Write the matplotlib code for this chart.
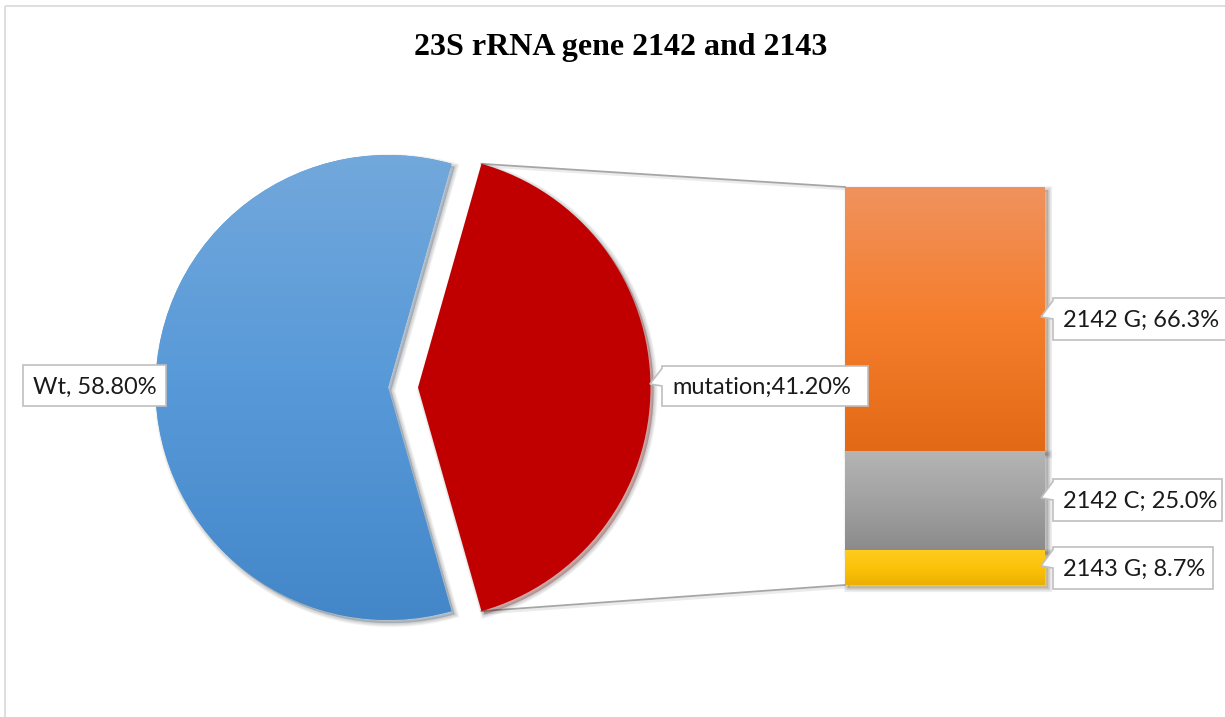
import numpy as np
import matplotlib.pyplot as plt
import matplotlib.patheffects as pe
from matplotlib.patches import Polygon, Rectangle
from matplotlib.colors import LinearSegmentedColormap

title = '23S rRNA gene 2142 and 2143'
pie_labels = ['Wt', 'mutation']
pie_values = [58.80, 41.20]
bar_labels = ['2142 G', '2142 C', '2143 G']
bar_values = [66.3, 25.0, 8.7]

W, H = 1225, 717
fig = plt.figure(figsize=(W / 100, H / 100), dpi=100)
ax = fig.add_axes([0, 0, 1, 1])

# soft drop shadow, down and right
shadow = ([pe.SimplePatchShadow(offset=(2.2, -2.2), shadow_rgbFace='k', alpha=0.10)]
          + [pe.Stroke(offset=(2.2, -2.2), linewidth=lw, foreground='k', alpha=0.035)
             for lw in (1, 2, 3, 4, 5, 6)]
          + [pe.Normal()])


def grad_fill(patch, colors, extent):
    x0, x1, y0, y1 = extent
    g = np.linspace(0, 1, 256)[:, None]
    cmap = LinearSegmentedColormap.from_list('g', colors)
    im = ax.imshow(g, cmap=cmap, extent=(x0, x1, y1, y0), origin='upper',
                   aspect='auto', interpolation='bilinear',
                   zorder=patch.get_zorder() + 0.1)
    im.set_clip_path(patch)


# chart frame
ax.add_patch(Rectangle((4.5, 5.5), W, H, fill=False, ec='#d9d9d9', lw=1.2))

# pie
cx, cy, r = 388, 387.5, 232.5
expl = 30
half = pie_values[1] / 100 * 180
wedges, _ = ax.pie(pie_values, explode=[0, expl], center=(cx, cy), radius=r,
                   startangle=half, counterclock=True,
                   colors=['#5b9bd5', '#c00000'], wedgeprops=dict(lw=0))
for w_ in wedges:
    w_.set_zorder(2)
    w_.set_path_effects(shadow)
grad_fill(wedges[0], ['#72a8dc', '#5799d8', '#4487c9'], (cx - r, cx + r, cy - r, cy + r))

# bar of pie
bx, bw, btop, bh = 945, 200, 187, 398
scale = bh / sum(bar_values)
heights = np.array(bar_values) * scale
bottoms = btop + np.concatenate([[0], np.cumsum(heights)[:-1]])
bar_cols = [['#f0925e', '#f57e2c', '#e26a17'],
            ['#b5b5b5', '#a2a2a2', '#8b8b8b'],
            ['#ffcb1f', '#fcc30a', '#ebb000']]
bars = ax.bar(bx, heights, bottom=bottoms, width=bw, color=[c[1] for c in bar_cols],
              lw=0, zorder=2)
for b, cols in zip(bars, bar_cols):
    b.set_path_effects(shadow)
    x0, y0 = b.get_x(), b.get_y()
    grad_fill(b, cols, (x0, x0 + b.get_width(), y0, y0 + b.get_height()))

# connector lines
th = np.radians(half)
px = cx + expl + r * np.cos(th)
for sgn, yb in [(-1, btop), (1, btop + bh)]:
    ax.plot([px, bx - bw / 2], [cy + sgn * r * np.sin(th), yb],
            color='#a6a6a6', lw=1.3, zorder=1,
            path_effects=[pe.Stroke(offset=(1.5, -1.5), linewidth=2, foreground='k', alpha=0.08),
                          pe.Normal()])


def callout(x0, y0, w, h, text, pointer=True):
    pts = [(x0, y0), (x0 + w, y0), (x0 + w, y0 + h), (x0, y0 + h)]
    if pointer:
        pts += [(x0, y0 + 0.5 * h), (x0 - 12, y0 + 0.45 * h), (x0, y0 + 0.06 * h)]
    ax.add_patch(Polygon(pts, closed=True, fc='white', ec='#bfbfbf', lw=1.2,
                         zorder=5, clip_on=False))
    ax.text(x0 + 10, y0 + h / 2 + 8, text, ha='left', va='baseline',
            fontsize=17, family='Lato', color='#1a1a1a', zorder=6)


callout(23, 365, 143, 41, f'{pie_labels[0]}, {pie_values[0]:.2f}%', pointer=False)
callout(662, 366, 206, 40, f'{pie_labels[1]};{pie_values[1]:.2f}%')
box_y = [298, 479, 547]
box_w = [185, 169, 160]
for lab, v, y0, w in zip(bar_labels, bar_values, box_y, box_w):
    callout(1053, y0, w, 42, f'{lab}; {v:.1f}%')

ax.text(621, 47, title, ha='center', va='center', fontsize=23,
        family='Liberation Serif', fontweight='bold', color='black')

ax.set_xlim(0, W)
ax.set_ylim(H, 0)
ax.set_aspect('auto')
ax.axis('off')
fig.savefig('out.png', dpi=100)
